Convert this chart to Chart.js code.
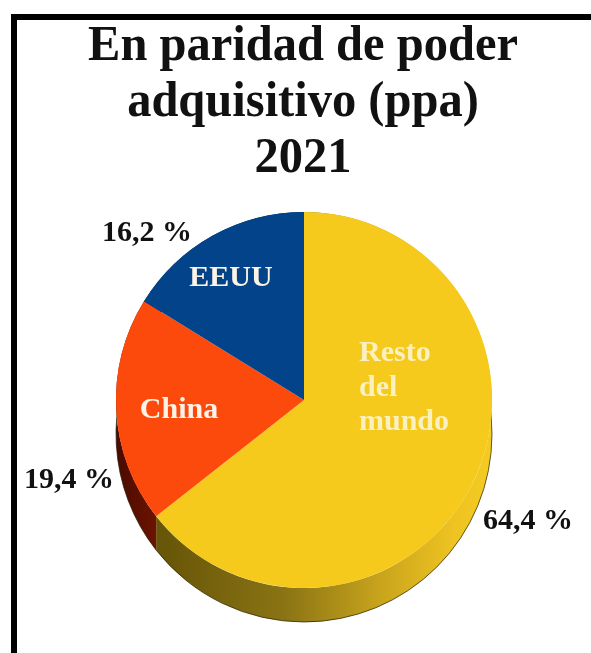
<!DOCTYPE html>
<html>
<head>
<meta charset="utf-8">
<style>
  html, body { margin: 0; padding: 0; background: #fff; }
  #pie { display: block; }
</style>
<script src="https://cdn.jsdelivr.net/npm/chart.js@4/dist/chart.umd.min.js"></script>
</head>
<body>
<div style="width:591px;height:653px"><canvas id="pie" width="591" height="653"></canvas></div>
<script>
// World GDP share in PPP terms, 2021
const titleLines = ['En paridad de poder', 'adquisitivo (ppa)', '2021'];
const categories = ['Resto del mundo', 'China', 'EEUU'];
const shares = [64.4, 19.4, 16.2];
const sliceColors = ['#f6ca1c', '#fb4a0c', '#02438a'];

const serif = '"Liberation Serif", serif';
const rimDepth = 34;

// Side wall of the pie, hung under each slice
const rimPlugin = {
  id: 'rim',
  beforeDatasetsDraw(chart) {
    const ctx = chart.ctx;
    const arcs = chart.getDatasetMeta(0).data;
    const left = arcs[0].x - arcs[0].outerRadius;
    const right = arcs[0].x + arcs[0].outerRadius;
    const stops = [
      [[0, '#5f4d08'], [0.15, '#6a5809'], [0.45, '#8a7414'], [0.7, '#c8a41c'], [0.9, '#eec322'], [1, '#f4cb22']],
      [[0, '#4a0a00'], [0.2, '#8a1c00'], [1, '#8a1c00']],
      [[0, '#02234a'], [1, '#02234a']]
    ];
    arcs.forEach((arc, i) => {
      const g = ctx.createLinearGradient(left, 0, right, 0);
      stops[i].forEach(s => g.addColorStop(s[0], s[1]));
      ctx.save();
      ctx.beginPath();
      ctx.arc(arc.x, arc.y + rimDepth, arc.outerRadius, arc.startAngle, arc.endAngle);
      ctx.arc(arc.x, arc.y, arc.outerRadius, arc.endAngle, arc.startAngle, true);
      ctx.closePath();
      ctx.fillStyle = g;
      ctx.fill();
      // dark rough edge along the outside of the wall
      ctx.beginPath();
      ctx.arc(arc.x, arc.y + rimDepth, arc.outerRadius, arc.startAngle, arc.endAngle);
      ctx.strokeStyle = 'rgba(40,30,0,0.7)';
      ctx.lineWidth = 1;
      ctx.stroke();
      ctx.restore();
    });
  }
};

// Frame, heading and the labels on and around the slices
const textPlugin = {
  id: 'texts',
  beforeDraw(chart) {
    const ctx = chart.ctx;
    ctx.save();
    ctx.fillStyle = '#000';
    ctx.fillRect(11, 14, chart.width - 11, 6);
    ctx.fillRect(11, 14, 6, chart.height - 14);
    ctx.restore();
  },
  afterDraw(chart) {
    const ctx = chart.ctx;
    ctx.save();
    ctx.textAlign = 'center';
    ctx.textBaseline = 'alphabetic';

    ctx.fillStyle = '#111';
    ctx.font = 'bold 50px ' + serif;
    titleLines.forEach((line, i) => {
      ctx.fillText(line, 303, 60 + i * 56, ctx.measureText(line).width * 0.97);
    });

    ctx.font = 'bold 30px ' + serif;
    ctx.fillText(pct(shares[0]), 528, 529);
    ctx.fillText(pct(shares[1]), 69, 488);
    ctx.fillText(pct(shares[2]), 147, 241);

    ctx.fillStyle = '#fdf3e6';
    ctx.fillText('EEUU', 231, 286);
    ctx.fillText('China', 179, 418);
    ctx.fillStyle = '#fbf0c0';
    ctx.textAlign = 'left';
    ctx.fillText('Resto', 359, 361);
    ctx.fillText('del', 359, 396);
    ctx.fillText('mundo', 359, 430);
    ctx.restore();
  }
};

function pct(v) {
  return v.toFixed(1).replace('.', ',') + ' %';
}

new Chart(document.getElementById('pie').getContext('2d'), {
  type: 'pie',
  data: {
    labels: categories,
    datasets: [{
      data: shares,
      backgroundColor: sliceColors,
      borderWidth: 0
    }]
  },
  options: {
    responsive: false,
    animation: false,
    layout: { padding: { top: 212, bottom: 65, left: 116, right: 99 } },
    plugins: {
      legend: { display: false },
      tooltip: { enabled: false }
    }
  },
  plugins: [rimPlugin, textPlugin]
});
</script>
</body>
</html>
